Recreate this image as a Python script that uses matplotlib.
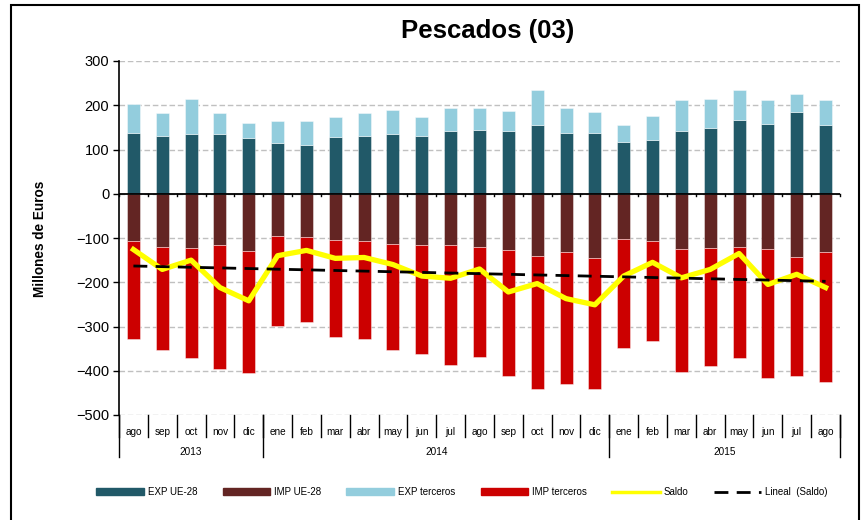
import matplotlib
matplotlib.use("Agg")
import matplotlib.pyplot as plt
import numpy as np
from matplotlib.lines import Line2D
from matplotlib.patches import Patch, Rectangle

plt.rcParams['font.family'] = ['Liberation Sans', 'DejaVu Sans']

months = ["ago", "sep", "oct", "nov", "dic",
          "ene", "feb", "mar", "abr", "may", "jun", "jul", "ago", "sep", "oct", "nov", "dic",
          "ene", "feb", "mar", "abr", "may", "jun", "jul", "ago"]
years = ["2013", "2014", "2015"]
year_spans = [(0, 4), (5, 16), (17, 24)]

exp_ue = [137, 131, 134, 134, 125, 114, 110, 128, 131, 134, 131, 142, 145,
          142, 155, 137, 137, 116, 122, 142, 149, 167, 158, 184, 155]
exp_ter = [66, 51, 80, 48, 36, 50, 54, 45, 51, 56, 42, 51, 48,
           45, 80, 56, 47, 39, 54, 69, 65, 68, 53, 42, 56]
imp_ue = [-106, -120, -122, -116, -129, -95, -97, -104, -106, -113, -116, -116, -120,
          -128, -140, -131, -146, -102, -106, -125, -122, -120, -125, -143, -131]
imp_ter = [-223, -234, -250, -280, -276, -204, -193, -220, -223, -241, -246, -271, -249,
           -283, -301, -298, -295, -246, -227, -277, -268, -252, -292, -268, -295]
saldo = [-126, -171, -150, -212, -242, -140, -128, -146, -144, -160, -186, -191, -170,
         -222, -203, -237, -251, -186, -155, -190, -171, -135, -205, -182, -212]

c_exp_ue = "#215968"
c_imp_ue = "#632523"
c_exp_ter = "#93CDDD"
c_imp_ter = "#CC0000"
c_saldo = "#FFFF00"

W, H = 864, 520
fig = plt.figure(figsize=(W / 100, H / 100), dpi=100)
ax = fig.add_axes([119 / W, 1 - 415 / H, (840 - 119) / W, (415 - 61) / H])

x = np.arange(len(months))
bw = 0.45
ec = dict(edgecolor=(1, 1, 1, 0.5), linewidth=0.6)
ax.bar(x, exp_ue, bw, color=c_exp_ue, zorder=2, **ec)
ax.bar(x, exp_ter, bw, bottom=exp_ue, color=c_exp_ter, zorder=2, **ec)
ax.bar(x, imp_ue, bw, color=c_imp_ue, zorder=2, **ec)
ax.bar(x, imp_ter, bw, bottom=imp_ue, color=c_imp_ter, zorder=2, **ec)

ax.plot(x, saldo, color=c_saldo, lw=3.8, zorder=4, solid_joinstyle='round')
coef = np.polyfit(x, saldo, 1)
ax.plot(x, np.polyval(coef, x), color="black", lw=2, dashes=(5, 3), zorder=5)

ax.set_xlim(-0.5, len(months) - 0.5)
ax.set_ylim(-500, 300)
ax.set_yticks(np.arange(-500, 301, 100))
ax.tick_params(axis='y', labelsize=10.5, length=4, width=1, direction='out', pad=3)
ax.yaxis.grid(True, color="#c0c0c0", linestyle=(0, (4, 2)), linewidth=1)
ax.set_axisbelow(True)
ax.set_xticks([])
for s in ['top', 'right', 'bottom']:
    ax.spines[s].set_visible(False)
ax.spines['left'].set_linewidth(1.2)

ax.axhline(0, color="black", lw=1.3, zorder=3)
for b in np.arange(-0.5, len(months), 1.0):
    ax.plot([b, b], [0, -4], color="black", lw=1, zorder=3, clip_on=False)

ax.set_ylabel("Millones de Euros", fontsize=9.8, fontweight='bold')
ax.yaxis.set_label_coords((47 - 119) / (840 - 119), (415 - 239) / (415 - 61))

trans = ax.get_xaxis_transform()
ah = 415 - 61
for i, m in enumerate(months):
    ax.text(i, -17 / ah, m, transform=trans, ha='center', va='center', fontsize=7.2)
for b in np.arange(-0.5, len(months), 1.0):
    ax.plot([b, b], [0, -22 / ah], transform=trans, color="black", lw=1, clip_on=False)
bounds = [-0.5, 4.5, 16.5, 24.5]
for b in bounds:
    ax.plot([b, b], [0, -42 / ah], transform=trans, color="black", lw=1, clip_on=False)
for yl, (a, bnd) in zip(years, year_spans):
    ax.text((a + bnd) / 2, -37 / ah, yl, transform=trans, ha='center', va='center', fontsize=7.2)

fig.text(488 / W, 1 - 31 / H, "Pescados (03)", ha='center', va='center',
         fontsize=18.5, fontweight='bold')

fig.patches.append(Rectangle((11 / W, -0.02), (859 - 11) / W, 1 - 5 / H + 0.02,
                             transform=fig.transFigure, fill=False, edgecolor="black",
                             linewidth=1.5))

handles = [Patch(color=c_exp_ue), Patch(color=c_imp_ue), Patch(color=c_exp_ter),
           Patch(color=c_imp_ter), Line2D([], [], color=c_saldo, lw=2.5),
           Line2D([], [], color="black", lw=2, dashes=(5, 3))]
labels = ["EXP UE-28", "IMP UE-28", "EXP terceros", "IMP terceros", "Saldo", "Lineal  (Saldo)"]
leg = fig.legend(handles, labels, loc='center', bbox_to_anchor=(462 / W, 1 - 492 / H),
                 ncol=6, frameon=False, fontsize=7, handlelength=4.9, handleheight=0.6,
                 columnspacing=2.6, handletextpad=0.4)

fig.savefig("out.png", dpi=100)
